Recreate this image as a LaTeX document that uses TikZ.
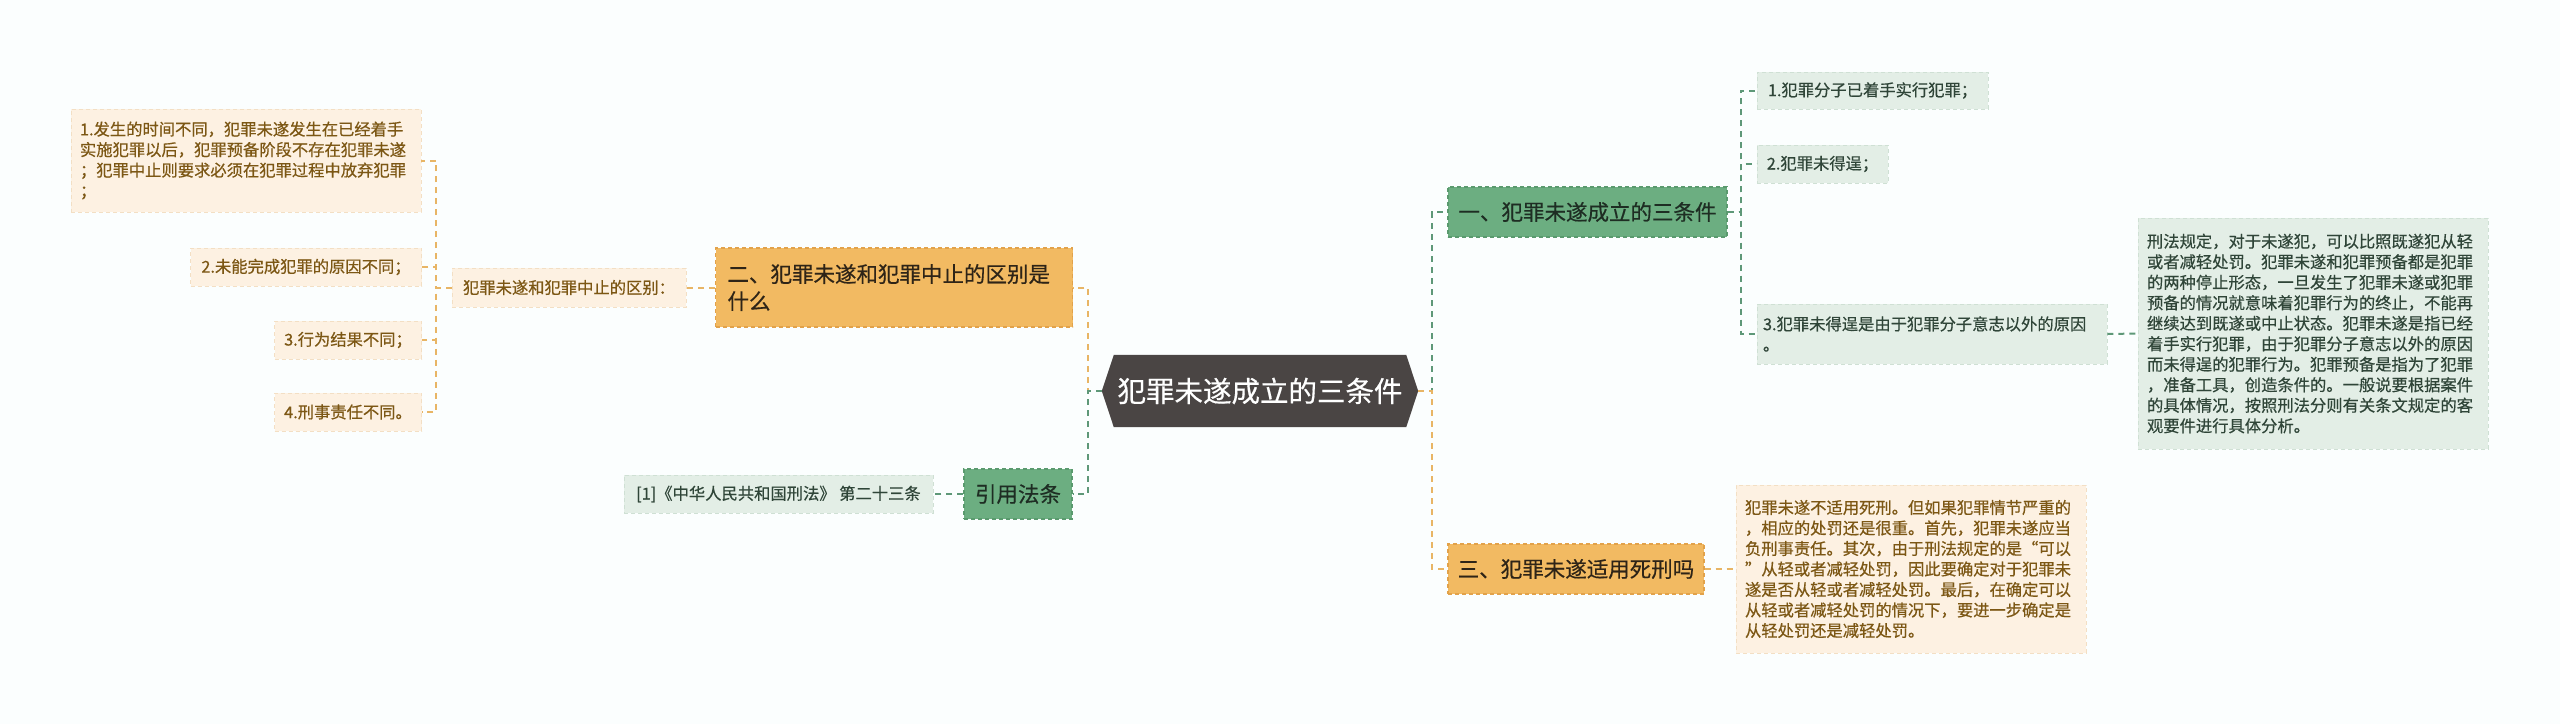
\documentclass[tikz,border=0pt]{standalone}
\usepackage{fontspec}
\setmainfont{Noto Sans CJK SC}[FakeBold=0.5]
\usetikzlibrary{backgrounds}
\definecolor{bgc}{HTML}{FBFEFE}
\definecolor{omain}{HTML}{F2BA62}
\definecolor{oborder}{HTML}{E2A24A}
\definecolor{oleaf}{HTML}{FDF1E2}
\definecolor{oleafb}{HTML}{F3DFC4}
\definecolor{otext}{HTML}{7C5714}
\definecolor{omtext}{HTML}{2E2417}
\definecolor{gmain}{HTML}{6CAE81}
\definecolor{gborder}{HTML}{5A9A6E}
\definecolor{gleaf}{HTML}{E3EEE6}
\definecolor{gleafb}{HTML}{CFE0D4}
\definecolor{gtext}{HTML}{2F4538}
\definecolor{gmtext}{HTML}{1E2D23}
\definecolor{cdark}{HTML}{4A4544}
\definecolor{oline}{HTML}{E8B565}
\definecolor{gline}{HTML}{5E9878}
\begin{document}
\begin{tikzpicture}[x=1pt,y=-1pt,
  mainbox/.style={inner sep=2pt, line width=1.2pt, dash pattern=on 4pt off 3pt,
    font=\fontsize{21.5}{27}\selectfont},
  mainO/.style={mainbox, draw=oborder, fill=omain, text=omtext},
  mainG/.style={mainbox, draw=gborder, fill=gmain, text=gmtext},
  leafbox/.style={inner sep=2pt, line width=0.8pt, dash pattern=on 4pt off 3pt,
    font=\fontsize{16.3}{20.5}\selectfont},
  leafO/.style={leafbox, draw=oleafb, fill=oleaf, text=otext},
  leafG/.style={leafbox, draw=gleafb, fill=gleaf, text=gtext},
  multi/.style={align=left, inner xsep=#1, text width=332pt},
  oconn/.style={draw=oline, line width=2pt, dash pattern=on 6pt off 5pt},
  gconn/.style={draw=gline, line width=2pt, dash pattern=on 6pt off 5pt},
]
\useasboundingbox (0,0) rectangle (2560,724);
\begin{scope}[on background layer]
  \fill[bgc] (0,0) rectangle (2560,724);
\end{scope}

% central
\node[font=\fontsize{28.5}{32}\selectfont, text=white, minimum width=316pt,
  minimum height=72pt, inner sep=0pt] (c) at (1260,391) {犯罪未遂成立的三条件};
\begin{scope}[on background layer]
  \fill[cdark] (c.west) -- ([xshift=12pt]c.north west) -- ([xshift=-12pt]c.north east)
    -- (c.east) -- ([xshift=-12pt]c.south east) -- ([xshift=12pt]c.south west) -- cycle;
\end{scope}

% left branch
\node[mainO, minimum width=357pt, minimum height=79pt, align=left,
  text width=333pt, inner xsep=12pt] (two) at (894,287.5)
  {二、犯罪未遂和犯罪中止的区别是\\什么};
\node[leafO, minimum width=234pt, minimum height=39pt] (mid) at (569,287.5)
  {犯罪未遂和犯罪中止的区别：};
\node[leafO, multi=9pt, minimum width=350pt, minimum height=103pt] (l1) at (246,160.5)
  {1.发生的时间不同，犯罪未遂发生在已经着手\\实施犯罪以后，犯罪预备阶段不存在犯罪未遂\\；犯罪中止则要求必须在犯罪过程中放弃犯罪\\；};
\node[leafO, minimum width=231pt, minimum height=38pt] (l2) at (306,267)
  {2.未能完成犯罪的原因不同；};
\node[leafO, minimum width=147pt, minimum height=38pt] (l3) at (348,340)
  {3.行为结果不同；};
\node[leafO, minimum width=147pt, minimum height=38pt] (l4) at (348,412)
  {4.刑事责任不同。};

\node[mainG, minimum width=108pt, minimum height=50pt] (law) at (1018,494) {引用法条};
\node[leafG, minimum width=309pt, minimum height=38pt] (cite) at (778.5,494)
  {[1]《中华人民共和国刑法》 第二十三条};

% right branch
\node[mainG, minimum width=279pt, minimum height=50pt] (one) at (1587.5,212)
  {一、犯罪未遂成立的三条件};
\node[leafG, minimum width=231pt, minimum height=37pt] (r1) at (1872.5,90.5)
  {1.犯罪分子已着手实行犯罪；};
\node[leafG, minimum width=131pt, minimum height=38pt] (r2) at (1822.5,164)
  {2.犯罪未得逞；};
\node[leafG, align=left, text width=338pt, inner xsep=6pt, minimum width=350pt,
  minimum height=60pt] (r3) at (1932,334)
  {3.犯罪未得逞是由于犯罪分子意志以外的原因\\。};
\node[leafG, multi=9pt, minimum width=350pt, minimum height=231pt] (far) at (2313,333.5)
  {刑法规定，对于未遂犯，可以比照既遂犯从轻\\或者减轻处罚。犯罪未遂和犯罪预备都是犯罪\\的两种停止形态，一旦发生了犯罪未遂或犯罪\\预备的情况就意味着犯罪行为的终止，不能再\\继续达到既遂或中止状态。犯罪未遂是指已经\\着手实行犯罪，由于犯罪分子意志以外的原因\\而未得逞的犯罪行为。犯罪预备是指为了犯罪\\，准备工具，创造条件的。一般说要根据案件\\的具体情况，按照刑法分则有关条文规定的客\\观要件进行具体分析。};

\node[mainO, minimum width=256pt, minimum height=50pt] (three) at (1576,569)
  {三、犯罪未遂适用死刑吗};
\node[leafO, multi=9pt, minimum width=350pt, minimum height=168pt] (br) at (1911,569)
  {犯罪未遂不适用死刑。但如果犯罪情节严重的\\，相应的处罚还是很重。首先，犯罪未遂应当\\负刑事责任。其次，由于刑法规定的是“可以\\”从轻或者减轻处罚，因此要确定对于犯罪未\\遂是否从轻或者减轻处罚。最后，在确定可以\\从轻或者减轻处罚的情况下，要进一步确定是\\从轻处罚还是减轻处罚。};

% bus coordinates
\coordinate (lb) at (1088,391);
\coordinate (rb) at (1432,391);
\coordinate (mb) at (436,287.5);
\coordinate (ob) at (1741,212);

% connectors
\draw[oconn] (c.west) -- (lb) |- (two.east);
\draw[gconn] (c.west) -- (lb) |- (law.east);
\draw[gconn] (c.east) -- (rb) |- (one.west);
\draw[oconn] (c.east) -- (rb) |- (three.west);

\draw[oconn] (two.west) -- (mid.east);
\draw[oconn] (mid.west) -- (mb) |- (l1.east);
\draw[oconn] (mid.west) -- (mb) |- (l2.east);
\draw[oconn] (mid.west) -- (mb) |- (l3.east);
\draw[oconn] (mid.west) -- (mb) |- (l4.east);

\draw[gconn] (law.west) -- (cite.east);

\draw[gconn] (one.east) -- (ob) |- (r1.west);
\draw[gconn] (one.east) -- (ob) |- (r2.west);
\draw[gconn] (one.east) -- (ob) |- (r3.west);
\draw[gconn] (r3.east) -- (far.west);

\draw[oconn] (three.east) -- (br.west);
\end{tikzpicture}
\end{document}
